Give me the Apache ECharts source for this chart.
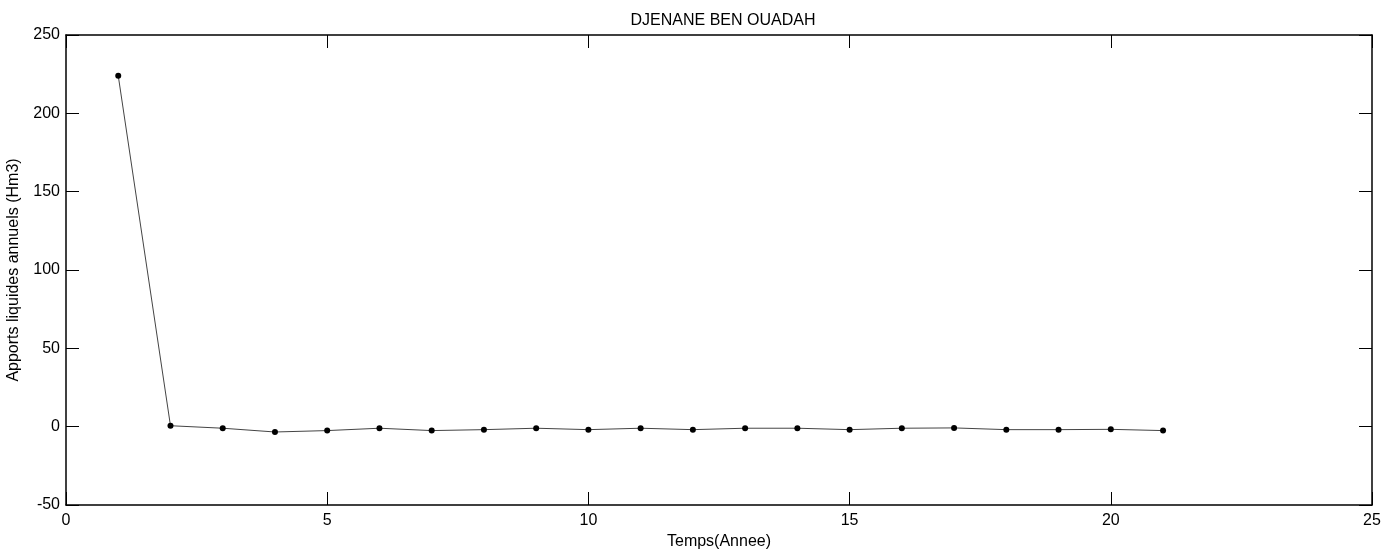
<!DOCTYPE html>
<html>
<head>
<meta charset="utf-8">
<script src="https://cdn.jsdelivr.net/npm/echarts@6/dist/echarts.min.js"></script>
<style>html,body{margin:0;padding:0;background:#fff;}#c{width:1397px;height:554px;}</style>
</head>
<body>
<div id="c"></div>
<script>
const years = [1,2,3,4,5,6,7,8,9,10,11,12,13,14,15,16,17,18,19,20,21];
const apports = [224, 0.6, -1, -3.4, -2.5, -1, -2.5, -1.9, -1, -1.9, -1, -1.9, -1, -1, -1.9, -1, -0.8, -1.9, -1.9, -1.7, -2.5];
const xTicks = [0,5,10,15,20,25];
const yTicks = [-50,0,50,100,150,200,250];
const titleText = 'DJENANE BEN OUADAH';
const xLabel = 'Temps(Annee)';
const yLabel = 'Apports liquides annuels (Hm3)';

const font = 'Liberation Sans, Arial, sans-serif';
const fs = 16;
const chart = echarts.init(document.getElementById('c'), null, {renderer:'canvas'});
const axisLine = {show:true, onZero:false, lineStyle:{color:'#000', width:1.5}};
const tick = {show:true, inside:true, length:13, lineStyle:{color:'#000', width:1}};
const lbl = {color:'#000', fontFamily:font, fontSize:fs};
chart.setOption({
  animation:false,
  backgroundColor:'#fff',
  title:{text:titleText, left:718, textAlign:'center', top:8, textStyle:{fontFamily:font, fontSize:fs, fontWeight:'normal', color:'#000'}},
  grid:{left:66, right:25, top:35, bottom:49, containLabel:false, outerBoundsMode:'none'},
  xAxis:[
    {type:'value', min:xTicks[0], max:xTicks[xTicks.length-1], interval:5, position:'bottom',
     axisLine:axisLine, axisTick:tick, splitLine:{show:false},
     axisLabel:Object.assign({margin:8}, lbl),
     name:xLabel, nameLocation:'middle', nameGap:27, nameTextStyle:{fontFamily:font, fontSize:fs, color:'#000'}},
    {type:'value', min:xTicks[0], max:xTicks[xTicks.length-1], interval:5, position:'top',
     axisLine:axisLine, axisTick:tick, splitLine:{show:false}, axisLabel:{show:false}}
  ],
  yAxis:[
    {type:'value', min:yTicks[0], max:yTicks[yTicks.length-1], interval:50, position:'left',
     axisLine:axisLine, axisTick:tick, splitLine:{show:false},
     axisLabel:Object.assign({margin:6}, lbl),
     name:yLabel, nameLocation:'middle', nameGap:44, nameTextStyle:{fontFamily:font, fontSize:fs, color:'#000'}},
    {type:'value', min:yTicks[0], max:yTicks[yTicks.length-1], interval:50, position:'right',
     axisLine:axisLine, axisTick:tick, splitLine:{show:false}, axisLabel:{show:false}}
  ],
  series:[{
    type:'line', xAxisIndex:0, yAxisIndex:0,
    data: years.map((y,i)=>[y, apports[i]]),
    symbol:'circle', symbolSize:6,
    itemStyle:{color:'#000'},
    lineStyle:{color:'#444', width:1}
  }]
});
</script>
</body>
</html>
